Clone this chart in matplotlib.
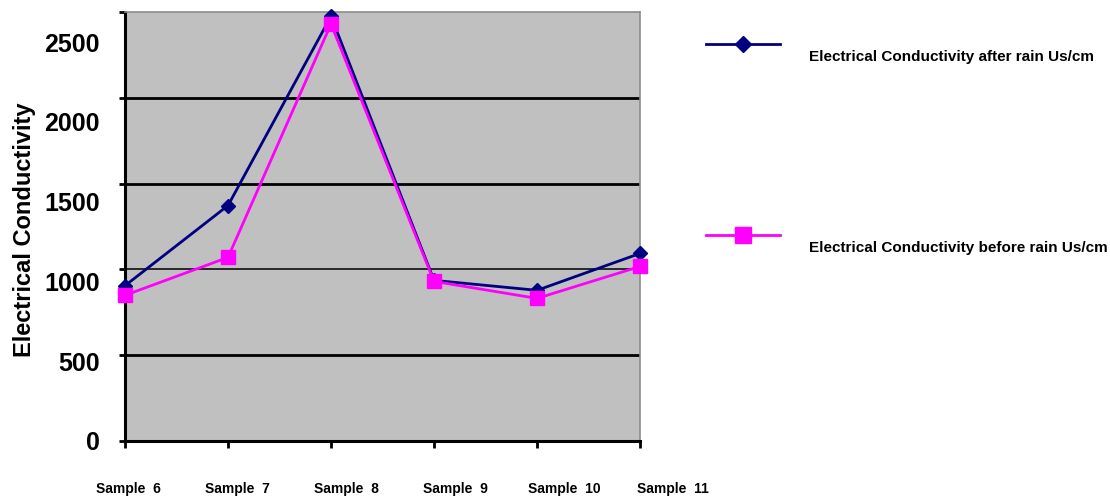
import numpy as np
import matplotlib
matplotlib.use("Agg")
import matplotlib.pyplot as plt
from matplotlib.ticker import FixedLocator, NullFormatter

plt.rcParams['font.family'] = ['Liberation Sans', 'DejaVu Sans']
plt.rcParams['font.weight'] = 'bold'

# samples and conductivity readings (uS/cm)
samples = ["Sample  6", "Sample  7", "Sample  8", "Sample  9", "Sample  10", "Sample  11"]
after_rain = [905, 1372, 2475, 936, 878, 1093]
before_rain = [849, 1070, 2430, 930, 831, 1017]
yticks = [0, 500, 1000, 1500, 2000, 2500]

after_label = "Electrical Conductivity after rain Us/cm"
before_label = "Electrical Conductivity before rain Us/cm"

fig = plt.figure(figsize=(11.1, 4.97), dpi=100)
ax = fig.add_axes([0.1126, 0.1127, 0.464, 0.8632])
ax.set_facecolor('#c0c0c0')

x = np.arange(len(samples))
ax.plot(x, after_rain, color='#000080', lw=2, marker='D', ms=7,
        clip_on=False, zorder=3, label=after_label)
ax.plot(x, before_rain, color='#ff00ff', lw=2, marker='s', ms=10,
        clip_on=False, zorder=4, label=before_label)

ax.set_xlim(0, len(samples) - 1)
ax.set_ylim(yticks[0], yticks[-1])

# horizontal grid, the 1000 line comes out thinner
for v in yticks[1:-1]:
    ax.axhline(v, color='black', lw=1.1 if v == 1000 else 2.0, zorder=1)

# tick marks on the data positions, label text spread a little wider
ax.yaxis.remove_overlapping_locs = False
ax.yaxis.set_major_locator(FixedLocator(yticks))
ax.yaxis.set_major_formatter(NullFormatter())
ax.yaxis.set_minor_locator(FixedLocator([v * 0.93 for v in yticks]))
ax.set_yticklabels([str(v) for v in yticks], minor=True)
ax.tick_params(axis='y', which='major', direction='out', length=4, width=2)
ax.tick_params(axis='y', which='minor', length=0, pad=18, labelsize=18)

ax.xaxis.set_major_locator(FixedLocator(x))
ax.xaxis.set_major_formatter(NullFormatter())
ax.tick_params(axis='x', which='major', direction='out', length=5, width=2)
for i, name in enumerate(samples):
    ax.text(0.03 + i * 1.058, -0.112, name, transform=ax.get_xaxis_transform(),
            ha='center', va='center', fontsize=10, fontweight='bold', clip_on=False)

for side in ['left', 'bottom']:
    ax.spines[side].set_linewidth(2.2)
    ax.spines[side].set_color('black')
for side in ['top', 'right']:
    ax.spines[side].set_linewidth(1.2)
    ax.spines[side].set_color('#8c8c8c')

fig.text(0.022, 0.537, "Electrical Conductivity", rotation=90,
         ha='center', va='center', fontsize=17, fontweight='bold')

leg = fig.legend(loc='upper left', bbox_to_anchor=(0.624, 0.95), frameon=False,
                 fontsize=11, labelspacing=11.6, handlelength=4.85, handletextpad=1.85,
                 markerscale=1.1)
for t in leg.get_texts():
    t.set_va('top')

fig.savefig("out.png", dpi=100)
